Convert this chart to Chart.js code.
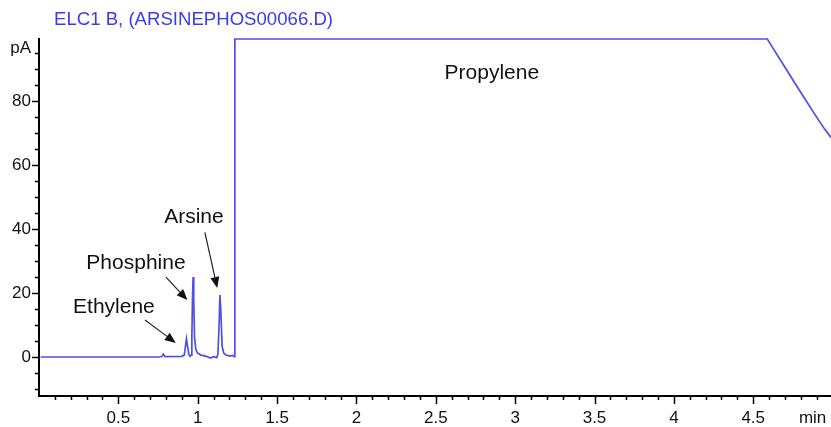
<!DOCTYPE html>
<html>
<head>
<meta charset="utf-8">
<title>ELC1 B</title>
<script src="https://cdn.jsdelivr.net/npm/chart.js@4/dist/chart.umd.min.js"></script>
<style>
	html, body { margin: 0; padding: 0; background: #ffffff; overflow: hidden; }
	#chartBox { position: relative; width: 831px; height: 427px; }
</style>
</head>
<body>
<div id="chartBox"><canvas id="line-chart"></canvas></div>
<script>

var CHART_TITLE = "ELC1 B, (ARSINEPHOS00066.D)";

/* retention time (min) and detector signal (pA) */
var retTimes = [0.01, 0.40, 0.76, 0.775, 0.783, 0.795, 0.90, 0.915, 0.922, 0.929, 0.936, 0.944, 0.951, 0.958,
	0.963, 0.967, 0.971, 0.975, 0.980, 0.988, 0.998, 1.02, 1.05, 1.08, 1.10, 1.12, 1.127, 1.134, 1.140,
	1.146, 1.154, 1.165, 1.18, 1.20, 1.22, 1.230, 1.234, 1.234, 2.5, 4.589, 4.635, 4.698, 4.761, 4.824,
	4.887, 4.950, 4.99];
var signalPa = [0, 0, 0, 0.2, 0.9, 0.1, 0.2, 0.6, 3.0, 5.7, 3.4, 0.8, 0.2, 0.6,
	6, 18, 25.0, 18, 6, 2.4, 1.3, 0.6, 0.3, -0.3, 0.1, -0.2, 0.8, 9, 19.4,
	14, 3.2, 1.1, 0.6, 0.3, 0.5, 0.1, 0.1, 99.5, 99.5, 99.5, 95.8, 90.8, 85.8, 80.9,
	76.0, 71.3, 68.7];

/* axis tick values and their labels */
var xTickValues = [0.5, 1, 1.5, 2, 2.5, 3, 3.5, 4, 4.5, 4.874];
var xTickLabels = ["0.5", "1", "1.5", "2", "2.5", "3", "3.5", "4", "4.5", "min"];
var yTickValues = [0, 20, 40, 60, 80, 96.6];
var yTickLabels = ["0", "20", "40", "60", "80", "pA"];

/* peak names and the arrows pointing at them, in data units */
var peakNames = ["Ethylene", "Phosphine", "Arsine", "Propylene"];
var peakNameX = [0.472, 0.611, 0.976, 2.853];
var peakNameY = [15.6, 29.4, 43.8, 88.8];
var arrowFromX = [0.668, 0.800, 1.045];
var arrowFromY = [11.6, 25.0, 39.0];
var arrowToX = [0.862, 0.935, 1.123];
var arrowToY = [4.4, 17.8, 21.6];

var FONT_FAMILY = "Arial, 'Liberation Sans', sans-serif";
var TRACE_COLOR = "#4f4fe8";

var points = [];
for (i = 0; i < retTimes.length; i++) {
	points.push({ x: retTimes[i], y: signalPa[i] });
}

/* minor/major tick marks, title and peak labels */
var decoPlugin = {
	id: 'deco',
	afterDraw: function(chart) {
		var ctx = chart.ctx;
		var xs = chart.scales.x;
		var ys = chart.scales.y;
		var area = chart.chartArea;
		var v, px, py, k;

		ctx.save();
		ctx.strokeStyle = "#000000";
		ctx.lineWidth = 1.5;
		ctx.beginPath();
		for (k = 1; k <= 49; k++) {
			v = k / 10;
			px = Math.round(xs.getPixelForValue(v)) + 0.5;
			if (px > area.right) break;
			ctx.moveTo(px, area.bottom);
			ctx.lineTo(px, area.bottom + (k % 5 == 0 ? 8 : 4));
		}
		for (k = -10; k <= 95; k += 5) {
			py = Math.round(ys.getPixelForValue(k)) + 0.5;
			ctx.moveTo(area.left, py);
			ctx.lineTo(area.left - (k % 20 == 0 ? 7 : 4), py);
		}
		ctx.stroke();

		// title
		ctx.fillStyle = "#3a3af4";
		ctx.font = "18.6px " + FONT_FAMILY;
		ctx.textAlign = "left";
		ctx.textBaseline = "middle";
		ctx.fillText(CHART_TITLE, 54, 20);

		// arrows
		ctx.strokeStyle = "#222222";
		ctx.fillStyle = "#111111";
		ctx.lineWidth = 1.2;
		for (k = 0; k < arrowFromX.length; k++) {
			var x1 = xs.getPixelForValue(arrowFromX[k]);
			var y1 = ys.getPixelForValue(arrowFromY[k]);
			var x2 = xs.getPixelForValue(arrowToX[k]);
			var y2 = ys.getPixelForValue(arrowToY[k]);
			var ang = Math.atan2(y2 - y1, x2 - x1);
			var headLen = 11, headW = 4.5;
			var bx = x2 - headLen * Math.cos(ang);
			var by = y2 - headLen * Math.sin(ang);
			ctx.beginPath();
			ctx.moveTo(x1, y1);
			ctx.lineTo(bx, by);
			ctx.stroke();
			ctx.beginPath();
			ctx.moveTo(x2, y2);
			ctx.lineTo(bx - headW * Math.sin(ang), by + headW * Math.cos(ang));
			ctx.lineTo(bx + headW * Math.sin(ang), by - headW * Math.cos(ang));
			ctx.closePath();
			ctx.fill();
		}

		// peak names
		ctx.fillStyle = "#111111";
		ctx.font = "21px " + FONT_FAMILY;
		ctx.textAlign = "center";
		ctx.textBaseline = "middle";
		for (k = 0; k < peakNames.length; k++) {
			ctx.fillText(peakNames[k], xs.getPixelForValue(peakNameX[k]), ys.getPixelForValue(peakNameY[k]));
		}
		ctx.restore();
	}
};

var lineChart = new Chart(document.getElementById("line-chart"), {
	type: 'line',
	data: {
		datasets: [{
			data: points,
			borderColor: TRACE_COLOR,
			borderWidth: 1.7,
			pointRadius: 0,
			tension: 0,
			fill: false,
			clip: 3
		}]
	},
	options: {
		responsive: true,
		maintainAspectRatio: false,
		animation: false,
		events: [],
		layout: { padding: { top: 39, right: 0, left: 0, bottom: 0 } },
		plugins: {
			legend: { display: false },
			title: { display: false },
			tooltip: { enabled: false }
		},
		scales: {
			x: {
				type: 'linear',
				min: 0,
				max: 4.99,
				grid: { display: false, drawTicks: false },
				border: { display: true, color: "#000000", width: 2 },
				afterFit: function(scale) {
					scale.height = 31;
					scale.paddingLeft = 0;
					scale.paddingRight = 0;
				},
				afterBuildTicks: function(scale) {
					scale.ticks = xTickValues.map(function(v) { return { value: v }; });
				},
				ticks: {
					autoSkip: false,
					maxRotation: 0,
					padding: 12,
					color: "#111111",
					font: { family: FONT_FAMILY, size: 17 },
					callback: function(value) {
						var idx = xTickValues.indexOf(value);
						return idx >= 0 ? xTickLabels[idx] : "";
					}
				}
			},
			y: {
				type: 'linear',
				min: -12.2,
				max: 99.5,
				grid: { display: false, drawTicks: false },
				border: { display: true, color: "#000000", width: 2 },
				afterFit: function(scale) {
					scale.width = 39;
					scale.paddingTop = 0;
					scale.paddingBottom = 0;
				},
				afterBuildTicks: function(scale) {
					scale.ticks = yTickValues.map(function(v) { return { value: v }; });
				},
				ticks: {
					autoSkip: false,
					padding: 8,
					color: "#111111",
					font: { family: FONT_FAMILY, size: 17 },
					callback: function(value) {
						var idx = yTickValues.indexOf(value);
						return idx >= 0 ? yTickLabels[idx] : "";
					}
				}
			}
		}
	},
	plugins: [decoPlugin]
});

</script>
</body>
</html>
